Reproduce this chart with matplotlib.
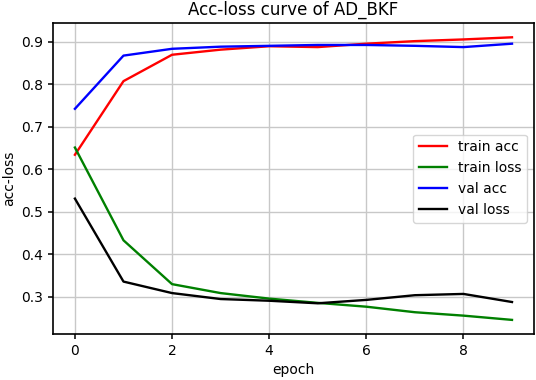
import numpy as np
import matplotlib
matplotlib.use('Agg')
import matplotlib.pyplot as plt

epochs = np.arange(10)
train_acc = [0.634, 0.807, 0.869, 0.881, 0.889, 0.887, 0.895, 0.901, 0.905, 0.910]
train_loss = [0.651, 0.433, 0.330, 0.309, 0.296, 0.286, 0.277, 0.264, 0.256, 0.246]
val_acc = [0.742, 0.867, 0.883, 0.888, 0.890, 0.892, 0.892, 0.890, 0.887, 0.895]
val_loss = [0.531, 0.336, 0.309, 0.295, 0.291, 0.285, 0.293, 0.304, 0.307, 0.288]

fig = plt.figure(figsize=(5.36, 3.8), dpi=100)
ax = fig.add_axes([0.099, 0.121, 0.897, 0.818])

ax.plot(epochs, train_acc, color='red', lw=1.7, label='train acc')
ax.plot(epochs, train_loss, color='green', lw=1.7, label='train loss')
ax.plot(epochs, val_acc, color='blue', lw=1.7, label='val acc')
ax.plot(epochs, val_loss, color='black', lw=1.7, label='val loss')

ax.grid(True, color='#c8c8c8', lw=1)
for s in ax.spines.values():
    s.set_linewidth(1.2)
ax.set_title('Acc-loss curve of AD_BKF', fontsize=12)
ax.set_xlabel('epoch', fontsize=10)
ax.set_ylabel('acc-loss', fontsize=10)
ax.tick_params(labelsize=10, width=1.1)
ax.legend(loc='center right', fontsize=10)

fig.savefig('out.png', dpi=100)
